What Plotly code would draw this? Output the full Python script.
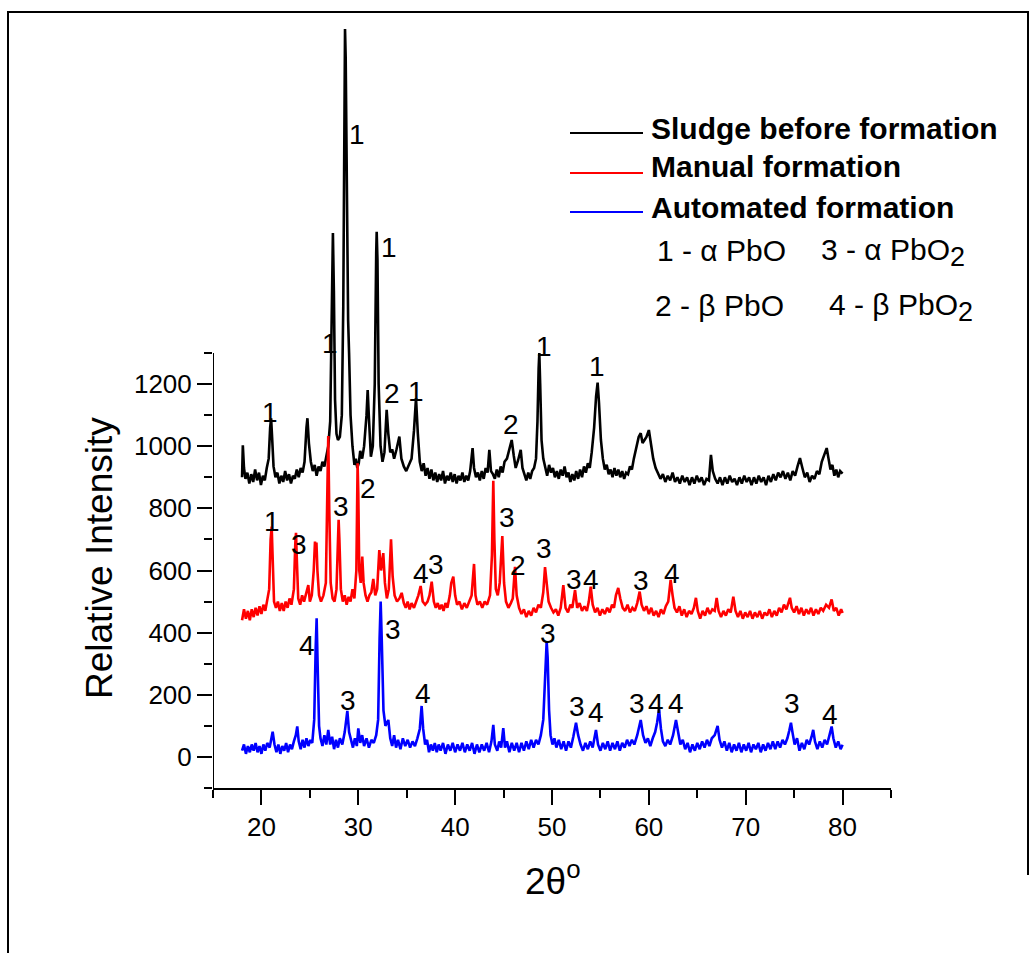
import plotly.graph_objects as go

# ---------------- data ----------------
BLACK_X = [18.00,18.08,18.20,18.35,18.55,18.75,18.95,19.15,19.35,19.55,19.75,19.95,20.15,20.35,20.55,20.75,20.90,21.00,21.10,21.25,
21.45,21.65,21.85,22.05,22.25,22.45,22.65,22.85,23.05,23.25,23.45,23.65,23.85,24.05,24.25,24.45,24.65,24.75,24.90,25.10,
25.30,25.50,25.70,25.90,26.10,26.30,26.50,26.70,26.90,27.10,27.30,27.38,27.48,27.60,27.75,27.90,28.10,28.30,28.45,28.58,
28.63,28.70,28.82,28.95,29.05,29.20,29.40,29.60,29.75,29.90,30.05,30.20,30.40,30.60,30.85,30.97,31.10,31.30,31.50,31.70,
31.85,31.90,31.98,32.10,32.30,32.50,32.70,32.93,33.10,33.30,33.50,33.70,33.95,34.24,34.45,34.70,34.95,35.20,35.50,35.75,
35.96,36.15,36.35,36.55,36.75,36.95,37.15,37.35,37.55,37.75,37.95,38.15,38.35,38.55,38.75,38.95,39.15,39.35,39.55,39.75,
39.95,40.15,40.35,40.55,40.75,40.95,41.15,41.35,41.55,41.80,41.95,42.15,42.35,42.55,42.75,42.95,43.15,43.35,43.53,43.70,
43.90,44.10,44.30,44.50,44.70,44.90,45.10,45.35,45.60,45.84,46.05,46.25,46.50,46.77,46.95,47.15,47.35,47.55,47.75,47.95,
48.15,48.35,48.50,48.62,48.69,48.78,48.92,49.10,49.30,49.50,49.70,49.90,50.10,50.30,50.50,50.70,50.90,51.10,51.30,51.50,
51.70,51.90,52.10,52.30,52.50,52.70,52.90,53.10,53.30,53.50,53.70,53.90,54.10,54.35,54.55,54.71,54.85,55.05,55.25,55.45,
55.65,55.85,56.05,56.25,56.45,56.65,56.85,57.05,57.25,57.45,57.65,57.85,58.05,58.25,58.45,58.70,58.95,59.16,59.35,59.55,
59.75,60.00,60.20,60.45,60.70,60.95,61.20,61.45,61.70,61.95,62.20,62.45,62.70,62.95,63.20,63.45,63.70,63.95,64.20,64.45,
64.70,64.95,65.20,65.45,65.70,65.95,66.20,66.41,66.60,66.85,67.10,67.35,67.60,67.85,68.10,68.35,68.60,68.85,69.10,69.35,
69.60,69.85,70.10,70.35,70.60,70.85,71.10,71.35,71.60,71.85,72.10,72.35,72.60,72.85,73.10,73.35,73.60,73.85,74.10,74.35,
74.60,74.85,75.10,75.35,75.60,75.85,76.10,76.35,76.60,76.85,77.10,77.35,77.60,77.85,78.10,78.36,78.55,78.75,78.95,79.15,
79.35,79.55,79.75,80.00]
BLACK_Y = [900,1003,930,895,915,880,910,885,925,890,915,875,905,890,930,960,1060,1090,1030,935,
900,915,880,905,885,920,890,910,880,905,895,925,900,930,915,950,1060,1090,1010,950,
920,940,905,935,920,950,935,966,1000,1080,1600,1686,1500,1150,1040,1020,1030,1100,1450,2200,
2343,2250,1800,1406,1300,1100,1000,940,960,930,945,985,960,1000,1100,1181,1090,966,1000,1200,
1620,1690,1600,1200,1000,950,980,1117,1040,980,990,960,990,1031,960,935,920,940,960,1050,
1155,1040,950,920,945,905,930,895,925,890,915,885,910,890,920,880,905,890,915,885,
910,880,905,890,915,885,905,890,920,994,930,900,915,890,920,895,930,915,988,920,
910,895,925,900,935,915,950,960,995,1020,970,930,955,988,930,905,890,915,895,920,
930,960,1080,1250,1300,1200,1020,960,930,905,940,915,930,900,920,895,925,905,935,900,
915,885,910,890,920,895,925,900,935,915,945,930,980,1060,1160,1205,1140,1020,960,925,
940,910,925,900,930,905,925,900,920,895,915,910,935,925,960,1000,1030,1042,1010,1020,
1030,1052,1010,960,930,915,895,910,885,905,890,915,885,900,880,905,885,900,875,900,
880,905,885,900,875,895,890,972,920,895,880,900,875,900,880,905,885,895,875,900,
880,905,885,900,875,900,880,905,885,900,875,905,885,910,890,915,900,920,895,915,
890,920,905,935,962,930,900,915,885,905,895,920,910,950,970,994,960,925,940,905,
925,900,920,912]

RED_X = [18.00,18.20,18.40,18.60,18.80,19.00,19.20,19.40,19.60,19.80,20.00,20.20,20.40,20.60,20.80,20.95,21.06,21.15,21.30,21.50,
21.70,21.90,22.10,22.30,22.50,22.70,22.90,23.10,23.35,23.50,23.57,23.65,23.80,24.00,24.20,24.40,24.65,24.84,25.00,25.20,
25.40,25.53,25.60,25.68,25.78,25.95,26.15,26.40,26.65,26.80,26.90,27.00,27.15,27.35,27.55,27.75,27.90,27.97,28.05,28.20,
28.40,28.60,28.80,29.00,29.20,29.40,29.60,29.80,29.93,30.00,30.10,30.25,30.41,30.55,30.75,30.95,31.15,31.35,31.55,31.75,
31.95,32.17,32.35,32.58,32.75,32.95,33.15,33.38,33.55,33.75,34.00,34.25,34.48,34.70,34.90,35.10,35.30,35.50,35.75,36.00,
36.20,36.44,36.65,36.90,37.15,37.35,37.58,37.80,38.00,38.20,38.40,38.60,38.80,39.00,39.20,39.45,39.60,39.81,40.00,40.20,
40.45,40.70,40.95,41.20,41.45,41.70,41.95,42.10,42.30,42.55,42.80,43.05,43.30,43.60,43.80,43.94,44.05,44.20,44.40,44.60,
44.87,45.05,45.25,45.50,45.75,45.95,46.18,46.35,46.60,46.85,47.10,47.35,47.60,47.85,48.10,48.35,48.60,48.85,49.10,49.28,
49.45,49.65,49.90,50.15,50.40,50.65,50.90,51.17,51.40,51.65,51.90,52.10,52.38,52.60,52.85,53.10,53.35,53.60,53.80,54.00,
54.20,54.45,54.70,54.95,55.20,55.45,55.70,55.95,56.20,56.40,56.60,56.84,57.05,57.30,57.55,57.80,58.05,58.30,58.55,58.80,
59.05,59.25,59.50,59.75,60.00,60.25,60.50,60.75,61.00,61.25,61.50,61.75,62.00,62.25,62.45,62.65,62.90,63.15,63.40,63.65,
63.90,64.15,64.40,64.65,64.86,65.05,65.30,65.55,65.80,66.05,66.30,66.55,66.80,67.00,67.20,67.45,67.70,67.95,68.20,68.45,
68.72,68.95,69.20,69.45,69.70,69.95,70.20,70.45,70.70,70.95,71.20,71.45,71.70,71.95,72.20,72.45,72.70,72.95,73.20,73.45,
73.70,73.95,74.20,74.40,74.57,74.75,75.00,75.25,75.50,75.75,76.00,76.25,76.50,76.75,77.00,77.25,77.50,77.75,78.00,78.30,
78.60,78.87,79.10,79.35,79.60,79.85,80.00]
RED_Y = [440,475,445,470,440,475,450,480,455,485,460,490,470,500,540,700,741,650,500,480,
500,470,495,470,500,480,510,490,540,690,721,640,510,490,520,500,530,553,500,520,
600,693,660,690,600,520,500,520,560,800,1033,800,560,510,500,540,720,763,700,540,
500,520,490,515,500,540,510,600,945,850,600,560,645,560,520,500,520,530,573,520,
540,666,600,656,560,510,540,700,580,520,500,510,528,495,480,500,475,495,480,500,
520,550,500,490,500,520,564,500,480,495,475,490,470,495,480,520,560,580,520,490,
500,475,495,480,500,520,621,520,490,500,480,500,490,520,650,889,700,540,520,560,
711,560,500,480,495,510,612,520,480,460,475,450,470,455,480,465,490,480,530,611,
560,500,480,465,475,455,480,553,480,465,490,480,537,480,495,470,485,470,500,548,
490,465,480,455,475,460,480,465,490,480,520,544,510,480,470,490,465,480,470,495,
532,490,470,485,460,480,455,470,450,475,460,485,500,570,520,480,465,485,455,475,
450,470,460,480,512,470,445,470,455,480,460,475,470,512,470,450,470,455,475,465,
516,470,450,470,445,465,450,470,445,465,450,470,445,465,455,475,450,470,455,480,
465,490,475,495,512,480,465,485,460,480,455,475,460,480,455,475,460,480,470,490,
480,507,470,480,455,475,463]

BLUE_X = [18.00,18.20,18.40,18.60,18.80,19.00,19.20,19.40,19.60,19.80,20.00,20.20,20.40,20.60,20.85,21.00,21.16,21.35,21.55,21.75,
21.95,22.15,22.35,22.55,22.75,22.95,23.15,23.35,23.55,23.70,23.85,24.05,24.25,24.45,24.65,24.85,25.05,25.25,25.45,25.60,
25.70,25.80,25.95,26.10,26.30,26.50,26.70,26.90,27.10,27.30,27.50,27.70,27.90,28.10,28.35,28.60,28.87,29.05,29.25,29.45,
29.65,29.85,30.00,30.20,30.40,30.60,30.85,31.10,31.35,31.60,31.85,32.05,32.20,32.31,32.42,32.60,32.80,33.10,33.30,33.50,
33.70,33.90,34.10,34.35,34.60,34.85,35.10,35.35,35.60,35.85,36.10,36.35,36.54,36.70,36.90,37.10,37.30,37.50,37.70,37.90,
38.10,38.30,38.50,38.75,39.00,39.25,39.50,39.75,40.00,40.25,40.50,40.75,41.00,41.25,41.50,41.75,42.00,42.25,42.50,42.75,
43.00,43.25,43.50,43.75,43.94,44.10,44.35,44.55,44.75,44.97,45.15,45.35,45.60,45.85,46.10,46.35,46.60,46.85,47.10,47.35,
47.60,47.85,48.10,48.35,48.60,48.85,49.10,49.30,49.45,49.55,49.70,49.85,50.05,50.25,50.45,50.70,50.95,51.20,51.45,51.70,
51.95,52.20,52.48,52.70,52.95,53.20,53.45,53.70,53.95,54.20,54.54,54.75,55.00,55.25,55.50,55.75,56.00,56.25,56.50,56.75,
57.00,57.25,57.50,57.75,58.00,58.25,58.50,58.80,59.16,59.40,59.65,59.90,60.15,60.40,60.65,60.85,61.05,61.25,61.45,61.70,
61.95,62.20,62.50,62.80,63.00,63.25,63.50,63.75,64.00,64.25,64.50,64.75,65.00,65.25,65.50,65.75,66.00,66.25,66.50,66.80,
67.10,67.30,67.55,67.80,68.05,68.30,68.55,68.80,69.05,69.30,69.55,69.80,70.05,70.30,70.55,70.80,71.05,71.30,71.55,71.80,
72.05,72.30,72.55,72.80,73.05,73.30,73.55,73.80,74.05,74.30,74.50,74.67,74.85,75.05,75.30,75.55,75.80,76.05,76.30,76.55,
76.80,76.97,77.15,77.40,77.65,77.90,78.15,78.40,78.65,78.87,79.05,79.30,79.55,79.80,80.00]
BLUE_Y = [20,40,10,35,15,40,20,45,15,35,10,40,20,45,30,55,81,40,15,40,
10,35,20,45,15,40,25,50,70,98,50,25,55,30,60,35,55,45,120,350,
446,300,100,60,35,70,40,87,40,65,25,55,30,60,40,80,148,80,50,30,
60,35,92,45,70,35,60,30,55,45,70,120,380,500,380,150,100,119,60,35,
70,30,55,25,60,35,55,30,50,35,60,90,164,90,40,55,15,40,20,45,
15,40,20,45,10,40,20,45,15,40,20,45,15,40,20,45,10,40,15,40,
20,45,15,50,103,40,20,50,30,93,30,50,15,45,20,45,15,45,20,50,
25,55,30,55,40,70,120,300,371,320,150,70,40,60,30,55,25,50,20,50,
30,65,110,70,40,20,45,25,50,30,87,40,20,45,25,50,20,45,25,50,
20,45,30,55,35,55,40,70,119,70,45,60,35,60,80,110,153,90,50,35,
55,40,70,119,80,40,55,25,45,15,40,20,45,25,50,30,55,35,60,70,
100,55,30,50,20,45,15,40,20,45,15,40,20,45,15,40,25,45,15,40,
20,45,25,50,25,50,30,55,40,60,85,110,75,40,60,20,45,25,55,40,
65,87,50,25,50,30,55,40,70,98,60,30,50,25,39]

SERIES_NAMES = ["Sludge before formation", "Manual formation", "Automated formation"]
SERIES_COLORS = ["#000000", "#FF0000", "#0000FF"]

# peak phase labels (x, y, text)
BLACK_LBL_X = [29.87, 33.17, 27.08, 20.88, 33.45, 35.96, 45.73, 49.20, 54.60]
BLACK_LBL_Y = [2002, 1638, 1332, 1107, 1171, 1176, 1069, 1321, 1256]
BLACK_LBL_T = ["1", "1", "1", "1", "2", "1", "2", "1", "1"]

RED_LBL_X = [21.06, 23.88, 28.18, 31.04, 36.44, 37.98, 45.40, 46.54, 49.17, 52.27, 53.98, 59.14, 62.34]
RED_LBL_Y = [757, 685, 806, 865, 591, 618, 770, 615, 671, 570, 570, 567, 591]
RED_LBL_T = ["1", "3", "3", "2", "4", "3", "3", "2", "3", "3", "4", "3", "4"]

BLUE_LBL_X = [24.74, 28.97, 33.55, 36.65, 49.56, 52.60, 54.50, 58.80, 60.70, 62.80, 74.74, 78.70]
BLUE_LBL_Y = [360, 183, 409, 205, 398, 162, 144, 173, 173, 173, 171, 135]
BLUE_LBL_T = ["4", "3", "3", "4", "3", "3", "4", "3", "4", "4", "3", "4"]

X_TICKS = [20, 30, 40, 50, 60, 70, 80]
X_MINOR = [15, 25, 35, 45, 55, 65, 75, 85]
Y_TICKS = [0, 200, 400, 600, 800, 1000, 1200]
Y_MINOR = [-100, 100, 300, 500, 700, 900, 1100, 1300]

# ---------------- layout geometry (pixels) ----------------
W, H = 1036, 953
L, R, T, B = 213, 145, 12, 165
PW, PH = W - L - R, H - T - B


def px(xp):
    return (xp - L) / PW


def py(yp):
    return (H - B - yp) / PH


FONT = "Liberation Sans, Arial, sans-serif"

fig = go.Figure()
for xs, ys, name, col in zip([BLACK_X, RED_X, BLUE_X], [BLACK_Y, RED_Y, BLUE_Y], SERIES_NAMES, SERIES_COLORS):
    fig.add_trace(go.Scatter(x=xs, y=ys, mode="lines", name=name,
                             line=dict(color=col, width=2.6), showlegend=False))

annotations = []
for lx, ly, lt in [(BLACK_LBL_X, BLACK_LBL_Y, BLACK_LBL_T), (RED_LBL_X, RED_LBL_Y, RED_LBL_T),
                   (BLUE_LBL_X, BLUE_LBL_Y, BLUE_LBL_T)]:
    for a, b, t in zip(lx, ly, lt):
        annotations.append(dict(x=a, y=b, xref="x", yref="y", text=t, showarrow=False,
                                xanchor="center", yanchor="middle",
                                font=dict(family=FONT, size=28, color="black")))

# legend (drawn by hand)
shapes = []
leg_line_y = [133, 173, 212]
leg_text_y = [128, 167, 207]
for i, (name, col) in enumerate(zip(SERIES_NAMES, SERIES_COLORS)):
    shapes.append(dict(type="line", xref="paper", yref="paper", x0=px(570), x1=px(643),
                       y0=py(leg_line_y[i]), y1=py(leg_line_y[i]), line=dict(color=col, width=2)))
    annotations.append(dict(x=px(649), y=py(leg_text_y[i]), xref="paper", yref="paper",
                            text="<b>" + name + "</b>", showarrow=False, xanchor="left", yanchor="middle",
                            font=dict(family=FONT, size=30, color="black")))

SUB2 = "<sub><span style='font-size:27px'>2</span></sub>"
phase_texts = [("1 - α PbO", 655, 250), ("3 - α PbO" + SUB2, 819, 252),
               ("2 - β PbO", 653, 305), ("4 - β PbO" + SUB2, 827, 307)]
for t, xp, yp in phase_texts:
    annotations.append(dict(x=px(xp), y=py(yp), xref="paper", yref="paper", text=t, showarrow=False,
                            xanchor="left", yanchor="middle",
                            font=dict(family=FONT, size=30, color="black")))

# axis titles
annotations.append(dict(x=px(99), y=py(558), xref="paper", yref="paper", text="Relative Intensity",
                        textangle=-90, showarrow=False, xanchor="center", yanchor="middle",
                        font=dict(family=FONT, size=37, color="black")))
annotations.append(dict(x=px(553), y=py(878), xref="paper", yref="paper", text="2θ<sup>o</sup>",
                        showarrow=False, xanchor="center", yanchor="middle",
                        font=dict(family=FONT, size=37, color="black")))

# y axis spine only from -100 to 1300
shapes.append(dict(type="line", xref="x", yref="y", x0=15, x1=15, y0=-100, y1=1300,
                   line=dict(color="black", width=2)))

# outer frame
shapes.append(dict(type="line", xref="paper", yref="paper", x0=px(8), x1=px(1028), y0=py(12), y1=py(12),
                   line=dict(color="black", width=2)))
shapes.append(dict(type="line", xref="paper", yref="paper", x0=px(8), x1=px(8), y0=py(11), y1=py(953),
                   line=dict(color="black", width=2)))
shapes.append(dict(type="line", xref="paper", yref="paper", x0=px(1028), x1=px(1028), y0=py(11), y1=py(875),
                   line=dict(color="black", width=2)))

ymax = -100 + 1400 * PH / 435.0

fig.update_layout(
    width=W, height=H,
    margin=dict(l=L, r=R, t=T, b=B, pad=0),
    paper_bgcolor="white", plot_bgcolor="white",
    font=dict(family=FONT, color="black"),
    showlegend=False,
    xaxis=dict(range=[15, 85], showgrid=False, zeroline=False, showline=True, linecolor="black", linewidth=2,
               ticks="outside", ticklen=15, tickwidth=2, tickcolor="black",
               tickmode="array", tickvals=X_TICKS, ticktext=[str(v) for v in X_TICKS],
               tickfont=dict(family=FONT, size=26, color="black"),
               minor=dict(tickmode="array", tickvals=X_MINOR, ticks="outside", ticklen=8, tickwidth=2,
                          tickcolor="black", showgrid=False)),
    yaxis=dict(range=[-100, ymax], showgrid=False, zeroline=False, showline=False,
               ticks="outside", ticklen=15, tickwidth=2, tickcolor="black",
               tickmode="array", tickvals=Y_TICKS, ticktext=[str(v) for v in Y_TICKS],
               tickfont=dict(family=FONT, size=26, color="black"),
               minor=dict(tickmode="array", tickvals=Y_MINOR, ticks="outside", ticklen=8, tickwidth=2,
                          tickcolor="black", showgrid=False)),
    shapes=shapes,
    annotations=annotations,
)

fig.write_html("out.html", include_plotlyjs=True, full_html=True,
               config={"displayModeBar": False},
               post_script="document.body.style.margin='0';document.body.style.overflow='hidden';")
